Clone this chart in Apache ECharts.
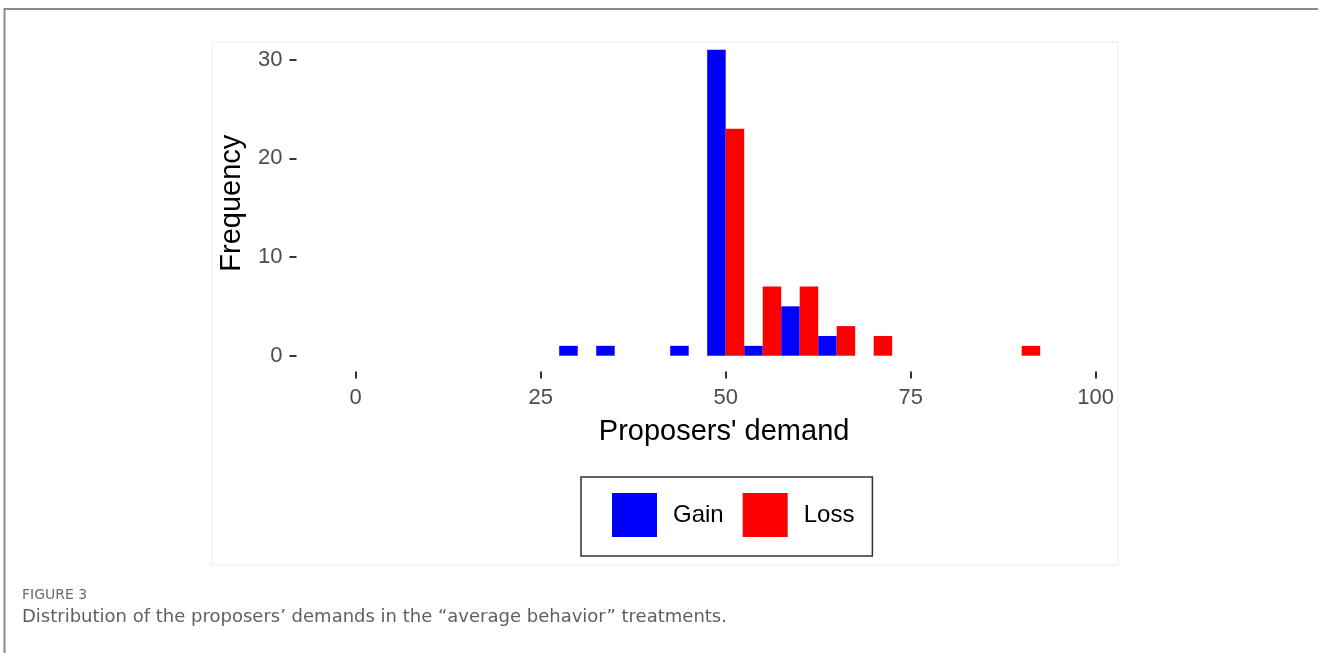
<!DOCTYPE html>
<html>
<head>
<meta charset="utf-8">
<script src="https://cdn.jsdelivr.net/npm/echarts@6/dist/echarts.min.js"></script>
<style>
  html, body { margin: 0; padding: 0; background: #fff; }
  #chart { width: 1318px; height: 653px; }
</style>
</head>
<body>
<div id="chart"></div>
<script>
// histogram bins (bin centre, width 5) and counts
const binWidth = 5
const gainBins = [30, 35, 45, 50, 55, 60, 65]
const gainCounts = [1, 1, 1, 31, 1, 5, 2]
const lossBins = [50, 55, 60, 65, 70, 90]
const lossCounts = [23, 7, 7, 3, 2, 1]
const xTicks = [0, 25, 50, 75, 100]
const yTicks = [0, 10, 20, 30]

const chart = echarts.init(document.getElementById('chart'))

// dodge: gain on the left half of the bin, loss on the right half
function dodgeRender (side) {
  return function (params, api) {
    const x = api.value(0)
    const y = api.value(1)
    const x0 = side < 0 ? x - binWidth / 2 : x
    const x1 = side < 0 ? x : x + binWidth / 2
    const p0 = api.coord([x0, y])
    const p1 = api.coord([x1, 0])
    return {
      type: 'rect',
      shape: { x: p0[0], y: p0[1], width: p1[0] - p0[0], height: p1[1] - p0[1] },
      style: { fill: api.visual('color') }
    }
  }
}

const tickLabel = { color: '#4d4d4d', fontSize: 22, fontFamily: 'Liberation Sans, Arial' }
const titleFont = { color: '#000', fontSize: 29, fontFamily: 'Liberation Sans, Arial' }

const option = {
  animation: false,
  // panel is expanded like ggplot so the axes sit a little away from the bars
  grid: { left: 296.5, right: 222.3, top: 34.9, bottom: 281.5 },
  xAxis: {
    type: 'value',
    min: -8,
    max: 100,
    splitLine: { show: false },
    axisLine: { show: false, onZero: false },
    axisTick: { show: true, length: 7, customValues: xTicks, lineStyle: { color: '#333', width: 2 } },
    axisLabel: Object.assign({ margin: 15, customValues: xTicks }, tickLabel),
    name: "Proposers' demand",
    nameLocation: 'middle',
    nameGap: 46,
    nameTextStyle: Object.assign({ padding: [0, 0, 0, 56] }, titleFont)
  },
  yAxis: {
    type: 'value',
    min: -1.6,
    max: 32.5,
    splitLine: { show: false },
    axisLine: { show: false, onZero: false },
    axisTick: { show: true, length: 7, customValues: yTicks, lineStyle: { color: '#333', width: 2 } },
    axisLabel: Object.assign({ margin: 14, customValues: yTicks }, tickLabel),
    name: 'Frequency',
    nameLocation: 'middle',
    nameRotate: 90,
    nameGap: 50,
    nameTextStyle: titleFont
  },
  legend: {
    left: 581,
    top: 477,
    orient: 'horizontal',
    data: ['Gain', 'Loss'],
    icon: 'rect',
    itemWidth: 45,
    itemHeight: 44,
    itemGap: 19,
    padding: [16, 18, 19, 31],
    borderColor: '#333',
    borderWidth: 1.5,
    selectedMode: false,
    textStyle: { color: '#000', fontSize: 24, fontFamily: 'Liberation Sans, Arial', padding: [0, 0, 0, 11] }
  },
  series: [
    {
      name: 'Gain',
      type: 'custom',
      itemStyle: { color: '#0000ff' },
      renderItem: dodgeRender(-1),
      data: gainBins.map((b, i) => [b, gainCounts[i]])
    },
    {
      name: 'Loss',
      type: 'custom',
      itemStyle: { color: '#ff0000' },
      renderItem: dodgeRender(1),
      data: lossBins.map((b, i) => [b, lossCounts[i]])
    }
  ],
  graphic: [
    // outer figure frame
    {
      type: 'rect',
      shape: { x: 4.5, y: 9, width: 1330, height: 700 },
      style: { fill: null, stroke: '#8a8a8a', lineWidth: 2 },
      silent: true
    },
    // faint edge of the embedded plot image
    {
      type: 'rect',
      shape: { x: 212, y: 42, width: 906, height: 523 },
      style: { fill: null, stroke: '#f2f2f2', lineWidth: 1.5 },
      silent: true
    },
    {
      type: 'text',
      left: 22,
      top: 588,
      style: { text: 'FIGURE 3', fill: '#6b6b6b', fontSize: 14, fontFamily: 'DejaVu Sans' },
      silent: true
    },
    {
      type: 'text',
      left: 22,
      top: 608,
      style: {
        text: 'Distribution of the proposers\u2019 demands in the \u201caverage behavior\u201d treatments.',
        fill: '#5f5f5f',
        fontSize: 18,
        fontFamily: 'DejaVu Sans'
      },
      silent: true
    }
  ]
}

chart.setOption(option)
</script>
</body>
</html>
